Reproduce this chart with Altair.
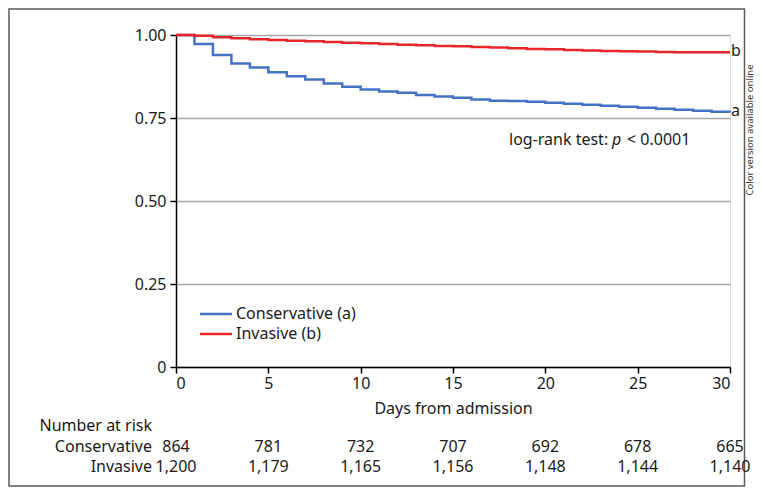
import altair as alt
import pandas as pd

days = list(range(0, 31))
conservative = [1.000, 0.973, 0.940, 0.914, 0.902, 0.888, 0.876, 0.866, 0.854, 0.844,
                0.836, 0.830, 0.826, 0.819, 0.815, 0.811, 0.806, 0.802, 0.801, 0.799,
                0.796, 0.793, 0.790, 0.787, 0.784, 0.781, 0.778, 0.775, 0.772, 0.769, 0.767]
invasive = [1.000, 0.998, 0.993, 0.990, 0.987, 0.985, 0.983, 0.981, 0.979, 0.977,
            0.975, 0.973, 0.971, 0.969, 0.967, 0.966, 0.964, 0.962, 0.960, 0.958,
            0.957, 0.955, 0.953, 0.952, 0.951, 0.950, 0.949, 0.948, 0.948, 0.948, 0.948]
groups = ["Conservative (a)", "Invasive (b)"]
end_labels = ["a", "b"]
colors = ["#4472C4", "#E8262A"]

risk_days = [0, 5, 10, 15, 20, 25, 30]
risk_conservative = ["864", "781", "732", "707", "692", "678", "665"]
risk_invasive = ["1,200", "1,179", "1,165", "1,156", "1,148", "1,144", "1,140"]

FONT = "Noto Sans"
FS = 16
TXT = "#1a1a1a"

curves = pd.DataFrame({
    "day": days * 2,
    "surv": conservative + invasive,
    "group": [groups[0]] * len(days) + [groups[1]] * len(days),
})
ends = pd.DataFrame({"day": [30, 30], "surv": [conservative[-1], invasive[-1]], "lab": end_labels})
risk_c = pd.DataFrame({"day": risk_days, "n": risk_conservative})
risk_i = pd.DataFrame({"day": risk_days, "n": risk_invasive})

xs = alt.Scale(domain=[0, 30], nice=False, zero=False)
ys = alt.Scale(domain=[0, 1], nice=False)
cs = alt.Scale(domain=groups, range=colors)

lines = alt.Chart(curves).mark_line(interpolate="step-after", strokeWidth=2.5).encode(
    x=alt.X("day:Q", scale=xs, axis=alt.Axis(
        values=risk_days, title="Days from admission", grid=False,
        domainColor="black", tickColor="black", tickSize=6, domainWidth=1.5, tickWidth=1.5,
        labelFont=FONT, labelFontSize=FS, labelColor=TXT, labelPadding=2,
        titleFont=FONT, titleFontSize=FS, titleFontWeight="normal", titleColor=TXT, titlePadding=9)),
    y=alt.Y("surv:Q", scale=ys, axis=alt.Axis(
        values=[0, 0.25, 0.5, 0.75, 1.0], title=None,
        labelExpr="datum.value == 0 ? '0' : format(datum.value, '.2f')",
        grid=True, gridColor="#A6A6A6", gridWidth=1.5,
        domainColor="black", tickColor="black", tickSize=6, domainWidth=1.5, tickWidth=1.5,
        labelFont=FONT, labelFontSize=FS, labelColor=TXT, labelPadding=4)),
    color=alt.Color("group:N", scale=cs, legend=None),
)

end_text = alt.Chart(ends).mark_text(align="left", baseline="middle", dx=1, dy=-1, font=FONT,
                                     fontSize=FS, color=TXT).encode(
    x=alt.X("day:Q", scale=xs), y=alt.Y("surv:Q", scale=ys), text="lab:N")

one = alt.Data(values=[{"a": 1}])


def txt(text, x, y, align="left", **kw):
    return alt.Chart(one).mark_text(align=align, baseline="middle", font=FONT,
                                    fontSize=kw.pop("fontSize", FS), color=kw.pop("color", TXT),
                                    text=text, **kw).encode(x=alt.value(x), y=alt.value(y))


def leg_line(i, y):
    return alt.Chart(one).mark_rule(strokeWidth=2.5, color=colors[i]).encode(
        x=alt.value(24), x2=alt.value(56), y=alt.value(y))


legend = [leg_line(0, 279), leg_line(1, 299),
          txt(groups[0], 60, 279), txt(groups[1], 60, 299)]

logrank = [txt("log-rank test:", 333, 105), txt("p", 436, 105, fontStyle="italic"),
           txt("< 0.0001", 451, 105)]

side = txt("Color version available online", 573.5, 95, align="center", fontSize=9.5,
           angle=270, color="#333333")

frame = alt.Chart(one).mark_rect(fillOpacity=0, stroke="#5a5a5a", strokeWidth=1.5).encode(
    x=alt.value(-167), x2=alt.value(568.5), y=alt.value(-26), y2=alt.value(451))

rc = alt.Chart(risk_c).mark_text(align="center", baseline="middle", font=FONT, fontSize=FS,
                                 color=TXT).encode(x=alt.X("day:Q", scale=xs), y=alt.value(412), text="n:N")
ri = alt.Chart(risk_i).mark_text(align="center", baseline="middle", font=FONT, fontSize=FS,
                                 color=TXT).encode(x=alt.X("day:Q", scale=xs), y=alt.value(432), text="n:N")
headers = [txt("Number at risk", -24, 391, align="right"),
           txt("Conservative", -24, 412, align="right"),
           txt("Invasive", -24, 432, align="right")]

chart = alt.layer(
    lines, end_text, *legend, *logrank, side, frame, rc, ri, *headers
).properties(
    width=554, height=332,
    autosize=alt.AutoSizeParams(type="none"),
    padding={"left": 168, "top": 27, "right": 24, "bottom": 121},
).configure_view(stroke=None).configure(background="white")

chart.save("out.html", embed_options={"renderer": "svg", "actions": False})
